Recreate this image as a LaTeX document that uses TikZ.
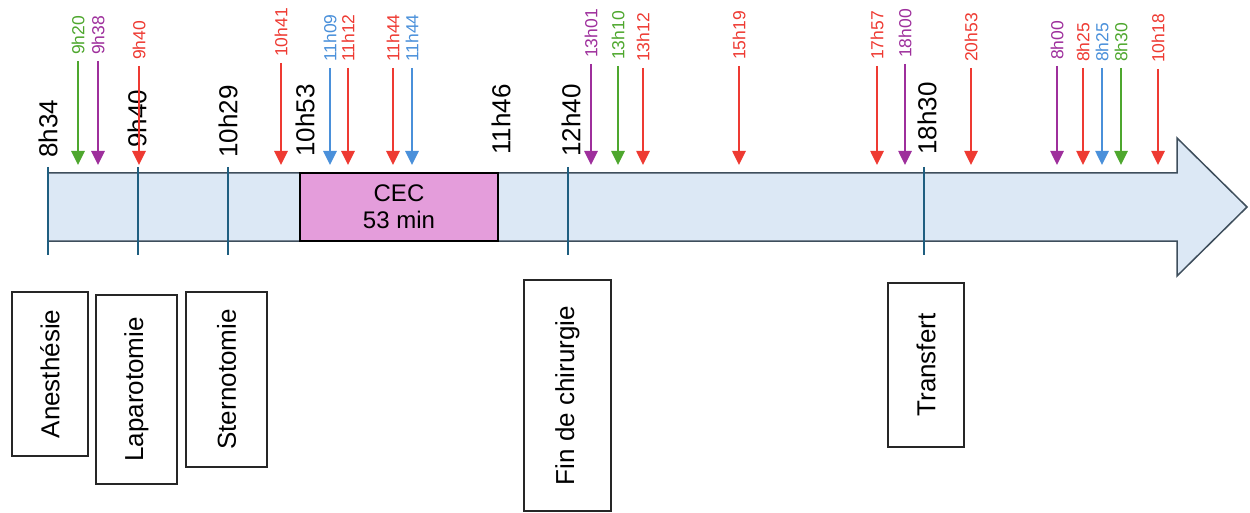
\documentclass[tikz,border=0pt]{standalone}
\usepackage{fontspec}
\setmainfont{Liberation Sans}
\usetikzlibrary{arrows.meta}
\definecolor{cred}{HTML}{EE3A32}
\definecolor{cgreen}{HTML}{4EA72E}
\definecolor{cpurple}{HTML}{9E2F9C}
\definecolor{cblue}{HTML}{4A90DA}
\definecolor{bodyfill}{HTML}{DCE8F5}
\definecolor{bodyline}{HTML}{3E4E5C}
\definecolor{tickc}{HTML}{1F5E80}
\definecolor{cecfill}{HTML}{E49DDB}
\begin{document}
\begin{tikzpicture}[x=1pt,y=-1pt,
  biglabel/.style={rotate=90,anchor=west,inner sep=0pt,font=\fontsize{26}{30}\selectfont},
  smalllabel/.style={rotate=90,anchor=west,inner sep=0pt,font=\fontsize{17.5}{20}\selectfont},
  evarrow/.style={line width=2.6pt,-{Triangle[width=13pt,length=14pt]}},
  tickline/.style={tickc,line width=2.6pt},
  stagebox/.style={draw=black!85,line width=1.4pt,rotate=90,inner sep=0pt,font=\fontsize{26}{30}\selectfont},
]
\useasboundingbox (0,0) rectangle (1250,513);
% timeline body arrow
\draw[fill=bodyfill,draw=bodyline,line width=1.5pt] (48,173) -- (1177,173) -- (1177,138) -- (1247,207) -- (1177,276) -- (1177,241) -- (48,241) -- cycle;
% CEC block
\node[draw=black,fill=cecfill,line width=1.4pt,minimum width=198pt,minimum height=68pt,inner sep=0pt,align=center,font=\fontsize{24}{27}\selectfont] (cec) at (399,207) {CEC\\53 min};
% ticks
\foreach \k/\x in {a/48,b/138,c/228,d/568,e/924} {
  \coordinate (top\k) at (\x,167);
  \coordinate (bot\k) at (\x,255);
  \draw[tickline] (top\k) -- (bot\k);
}
% main time labels
\node[biglabel] (L1) at (48,158) {8h34};
\node[biglabel] (L2) at (137,148) {9h40};
\node[biglabel] (L3) at (228,158) {10h29};
\node[biglabel] (L4) at (305,157) {10h53};
\node[biglabel] (L5) at (501,155) {11h46};
\node[biglabel] (L6) at (571,157) {12h40};
\node[biglabel] (L7) at (927,155) {18h30};
% event arrows
\foreach \i/\x/\yb/\c/\t in {
  1/78/55/cgreen/9h20,
  2/98/55/cpurple/9h38,
  3/139/60/cred/9h40,
  4/281/57/cred/10h41,
  5/330/62/cblue/11h09,
  6/348/62/cred/11h12,
  7/393/62/cred/11h44,
  8/412/62/cblue/11h44,
  9/591/58/cpurple/13h01,
  10/618/60/cgreen/13h10,
  11/643/62/cred/13h12,
  12/739/60/cred/15h19,
  13/877/60/cred/17h57,
  14/905/58/cpurple/18h00,
  15/971/62/cred/20h53,
  16/1057/60/cpurple/8h00,
  17/1083/62/cred/8h25,
  18/1102/62/cblue/8h25,
  19/1121/62/cgreen/8h30,
  20/1158/63/cred/10h18} {
  \node[smalllabel,text=\c] (ev\i) at (\x,\yb) {\t};
  \coordinate (sa\i) at (\x,\yb+6);
  \coordinate (sb\i) at (\x,165);
  \draw[evarrow,\c] (sa\i) -- (sb\i);
}
% stage boxes
\node[stagebox,minimum width=164pt,minimum height=76pt] (anes) at (50,374) {Anesthésie};
\node[stagebox,minimum width=189pt,minimum height=81pt] (lapa) at (136.5,389.5) {Laparotomie};
\node[stagebox,minimum width=175pt,minimum height=81pt] (ster) at (226.5,379.5) {Sternotomie};
\node[stagebox,minimum width=231pt,minimum height=87pt] (fin) at (567.5,395.5) {Fin de chirurgie};
\node[stagebox,minimum width=164pt,minimum height=76pt] (trans) at (926,365) {Transfert};
\end{tikzpicture}
\end{document}
